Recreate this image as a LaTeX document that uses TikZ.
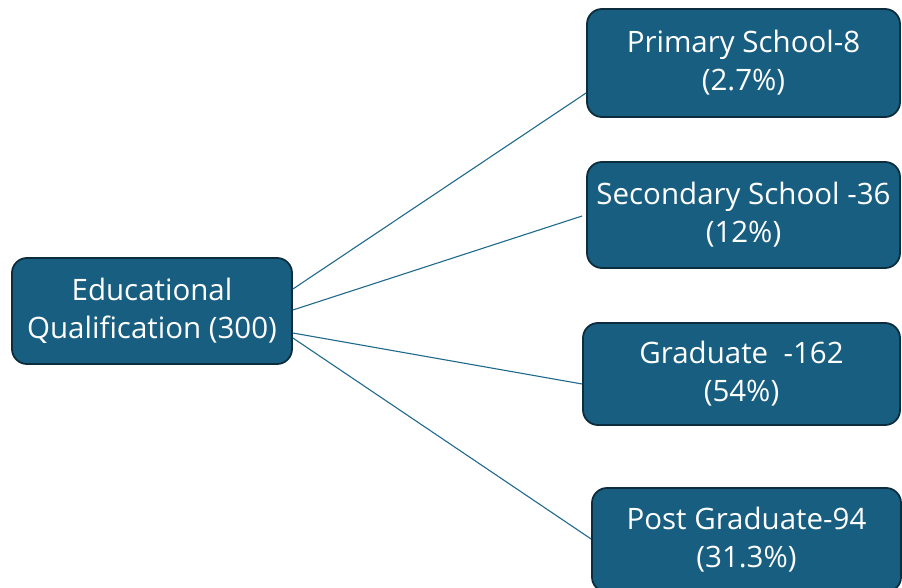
\documentclass[tikz,border=0pt]{standalone}
\usepackage{fontspec}
\setmainfont{Open Sans}
\definecolor{boxfill}{RGB}{24,94,128}
\definecolor{boxedge}{RGB}{12,45,62}
\definecolor{linkcol}{RGB}{31,105,140}
\begin{document}
\begin{tikzpicture}[x=1pt,y=-1pt,
  catbox/.style={draw=boxedge, line width=1.8pt, fill=boxfill, rounded corners=15pt,
    text=white, align=center, inner sep=0pt,
    font=\fontsize{29.5}{38}\selectfont},
  link/.style={draw=linkcol, line width=1.1pt}]
\useasboundingbox (0,0) rectangle (902,588);
\begin{scope}
\clip (0,0) rectangle (902,588);
\node[catbox, minimum width=280pt, minimum height=106pt] (edu) at (152,311)
  {Educational\\Qualification (300)};
\node[catbox, minimum width=313pt, minimum height=108pt] (prim) at (743.5,63)
  {Primary School-8\\(2.7\%)};
\node[catbox, minimum width=313pt, minimum height=106pt] (sec) at (743.5,215)
  {Secondary School -36\\(12\%)};
\node[catbox, minimum width=317pt, minimum height=102pt] (grad) at (741.5,374)
  {Graduate\ \ -162\\(54\%)};
\node[catbox, minimum width=309pt, minimum height=104pt] (post) at (746.5,540)
  {Post Graduate-94\\(31.3\%)};
\end{scope}
\draw[link] ([yshift=22pt]edu.east) -- ([yshift=-30pt]prim.west);
\draw[link] ([yshift=1pt]edu.east) -- ([xshift=-4pt,yshift=-1pt]sec.west);
\draw[link] ([yshift=-22pt]edu.east) -- ([yshift=-10pt]grad.west);
\draw[link] ([yshift=-27pt]edu.east) -- ([yshift=1pt]post.west);
\end{tikzpicture}
\end{document}
